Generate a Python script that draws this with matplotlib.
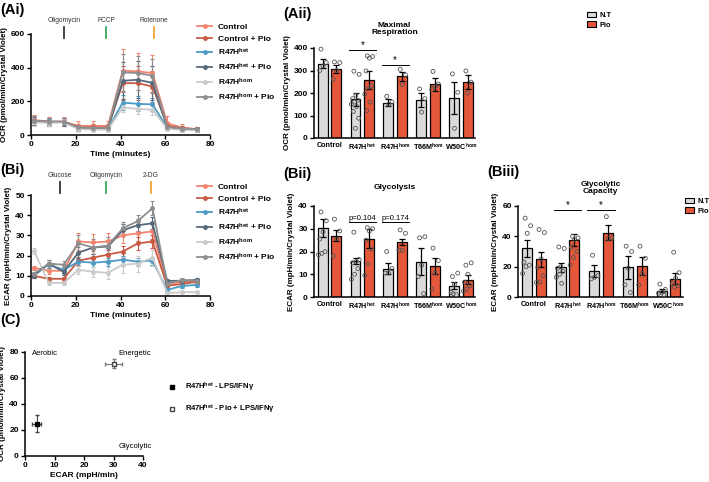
import numpy as np
import matplotlib
matplotlib.use("Agg")
import matplotlib.pyplot as plt
from matplotlib.lines import Line2D
from matplotlib.patches import Patch
import matplotlib.transforms as mtransforms


plt.rcParams['font.family'] = ['Liberation Sans', 'DejaVu Sans']
plt.rcParams['mathtext.fontset'] = 'custom'
plt.rcParams['mathtext.rm'] = 'Liberation Sans'
plt.rcParams['mathtext.bf'] = 'Liberation Sans:bold'
plt.rcParams['mathtext.it'] = 'Liberation Sans:italic'
plt.rcParams['mathtext.default'] = 'bf'

W, H = 709, 482

# ---- seahorse time courses ----
time_min = [1.3, 7.9, 14.6, 21.2, 27.8, 34.4, 41.0, 47.6, 54.3, 60.9, 67.5, 74.1]
series_names = ["Control", "Control + Pio", "R47H$^{het}$", "R47H$^{het}$ + Pio",
                "R47H$^{hom}$", "R47H$^{hom}$ + Pio"]
series_colors = ["#F28470", "#C85A44", "#4C9BC6", "#56687A", "#CBCBCB", "#8E8E8E"]

ocr_control = [89, 80, 80, 54, 54, 54, 383, 378, 368, 70, 44, 34]
ocr_control_pio = [85, 78, 78, 45, 45, 45, 308, 308, 288, 55, 40, 35]
ocr_het = [80, 75, 78, 38, 35, 35, 193, 185, 182, 42, 32, 30]
ocr_het_pio = [82, 78, 78, 40, 38, 38, 322, 328, 310, 45, 35, 32]
ocr_hom = [75, 72, 75, 35, 32, 32, 165, 155, 150, 38, 30, 28]
ocr_hom_pio = [85, 80, 80, 45, 42, 42, 372, 368, 352, 48, 38, 35]

ocr_control_sem = [30, 25, 25, 30, 30, 30, 130, 110, 110, 40, 20, 15]
ocr_control_pio_sem = [25, 20, 20, 20, 20, 20, 100, 100, 90, 25, 15, 12]
ocr_het_sem = [20, 18, 18, 12, 12, 12, 45, 45, 40, 12, 10, 8]
ocr_het_pio_sem = [25, 22, 22, 15, 15, 15, 110, 110, 100, 15, 12, 10]
ocr_hom_sem = [20, 18, 18, 10, 10, 10, 30, 30, 30, 10, 8, 8]
ocr_hom_pio_sem = [25, 22, 22, 15, 15, 15, 110, 100, 100, 15, 12, 10]

ecar_control = [14, 12.5, 12.5, 27, 26.5, 27, 30, 31, 32, 6, 7, 7]
ecar_control_pio = [10, 8.5, 8.5, 17.5, 19, 20.5, 22, 26, 27, 5, 6, 7]
ecar_het = [11, 15.5, 13, 17, 16.5, 17, 18, 17, 17.5, 3, 5, 5.5]
ecar_het_pio = [10, 16, 12, 21.5, 24, 24.5, 32.5, 35, 36, 7.5, 7.5, 8]
ecar_hom = [22.5, 6.5, 6.5, 13, 12, 11.5, 15.5, 16, 19, 1.5, 1.8, 2]
ecar_hom_pio = [11, 16, 15.5, 26, 24, 25, 33.5, 37, 43.5, 6, 8, 7.5]

ecar_control_sem = [1, 1.5, 1.5, 4, 4, 4, 4, 4, 4, 1, 1, 1]
ecar_control_pio_sem = [1, 1, 1, 2, 2, 2.5, 3, 3, 3, 1, 1, 1]
ecar_het_sem = [1, 1.5, 1.5, 2, 2, 2, 2, 2, 2, 1, 1, 1]
ecar_het_pio_sem = [1, 2, 1.5, 3, 3, 3, 3, 3, 3, 1, 1, 1]
ecar_hom_sem = [1.5, 1, 1, 2, 2.5, 3, 4, 4, 4, 0.5, 0.5, 0.5]
ecar_hom_pio_sem = [1, 2, 2, 4, 4, 4, 3, 3, 3.5, 1, 1, 1]

ocr_injections = ["Oligomycin", "FCCP", "Rotenone"]
ocr_inject_times = [14.9, 33.5, 55.0]
ecar_injections = ["Glucose", "Oligomycin", "2-DG"]
ecar_inject_times = [13.0, 33.5, 53.6]
inject_colors = ["#333333", "#3DAA5E", "#F0A634"]

# ---- bar charts ----
genotypes = ["Control", "R47H$^{het}$", "R47H$^{hom}$", "T66M$^{hom}$", "W50C$^{hom}$"]

maxresp_nt = [330, 172, 157, 170, 177]
maxresp_nt_sem = [20, 30, 15, 30, 70]
maxresp_pio = [308, 260, 275, 238, 250]
maxresp_pio_sem = [18, 40, 20, 30, 30]
maxresp_nt_pts = [[395, 335, 320, 300], [297, 283, 190, 175, 168, 160, 150, 140, 118, 88, 43],
                  [185, 160, 150], [218, 175, 115], [285, 203, 43]]
maxresp_pio_pts = [[338, 335, 300, 262], [365, 362, 355, 298, 232, 220, 195, 160, 122],
                   [305, 280, 238], [296, 240, 228, 215], [298, 248, 200]]

glyco_nt = [30.5, 15.8, 12.5, 15.5, 5.0]
glyco_nt_sem = [4, 1.5, 2.5, 6, 1.5]
glyco_pio = [27, 25.7, 24.2, 13.5, 7.6]
glyco_pio_sem = [2.5, 4, 1.5, 3.5, 2]
glyco_nt_pts = [[37.4, 33.5, 28.6, 25.5, 19.9, 19.2, 18.6], [28.5, 16.5, 15.5, 15, 12.5, 10, 7.8],
                [20, 12.5, 10.5, 10.5], [26, 26.5, 14, 9, 1.5], [9, 10.5, 5.5, 2, 1, 1.5]]
glyco_pio_pts = [[34.2, 29.0, 25.5, 18.0], [30.5, 30, 29, 25, 21, 14.5, 9.5],
                 [29.5, 28, 20.5, 20.5], [21.5, 16, 10.5, 3.5], [14, 15, 10, 6.5, 5, 3.5, 2.5]]

glycap_nt = [32, 19.5, 17, 19.5, 4.2]
glycap_nt_sem = [5.5, 3, 4, 7.5, 1.2]
glycap_pio = [25, 37.5, 42.5, 20.5, 12]
glycap_pio_sem = [5, 4, 5, 6, 3.5]
glycap_nt_pts = [[52, 47, 42, 23, 21, 20, 15.5], [33, 32, 20, 19, 17, 15, 13, 9],
                 [27.5, 14, 13, 12], [33.5, 30, 19, 8, 3], [8.5, 5, 3, 2.5, 1.5]]
glycap_pio_pts = [[44.5, 42.5, 25, 19.5, 14, 10, 9.5], [40, 39, 38, 33, 30, 26, 21],
                  [53, 39, 38.5], [33.5, 25.5, 15.5, 8], [29.5, 16, 12.5, 9, 7.5, 6.5]]

NT_COLOR = "#DADADA"
PIO_COLOR = "#E5573A"

# ---- energy map ----
energy_labels = ["R47H$^{het}$ - LPS/IFNγ", "R47H$^{het}$ - Pio + LPS/IFNγ"]
energy_ecar = [4.0, 30.0]
energy_ecar_err = [1.5, 3.0]
energy_ocr = [25.0, 71.0]
energy_ocr_err = [6.5, 3.5]


def px_axes(fig, left, top, right, bottom):
    return fig.add_axes([left / W, 1 - bottom / H, (right - left) / W, (bottom - top) / H])


def style_axes(ax, xsize=6):
    for s in ["top", "right"]:
        ax.spines[s].set_visible(False)
    for s in ["left", "bottom"]:
        ax.spines[s].set_linewidth(1.1)
    ax.tick_params(labelsize=6, width=1.0, length=3, pad=1.5)
    ax.tick_params(axis="x", labelsize=xsize)
    for lab in ax.get_xticklabels() + ax.get_yticklabels():
        lab.set_fontweight("bold")


def time_course(ax, means, sems, names, inj_names, inj_times, ylim, yticks, ylabel, mark_y, text_y):
    for m, e, c in zip(means, sems, series_colors):
        ax.errorbar(time_min, m, yerr=e, color=c, lw=1.3, marker="o", ms=2.5, mfc=c,
                    mec=c, elinewidth=0.8, capsize=1.5, capthick=0.8, clip_on=False)
    ax.set_xlim(0, 80)
    ax.set_ylim(*ylim)
    ax.set_xticks([0, 20, 40, 60, 80])
    ax.set_yticks(yticks)
    ax.set_xlabel("Time (minutes)", fontsize=6, fontweight="bold", labelpad=2)
    ax.set_ylabel(ylabel, fontsize=5.8, fontweight="bold", labelpad=2)
    style_axes(ax)
    trans = mtransforms.blended_transform_factory(ax.transData, ax.transAxes)
    for n, t, c in zip(inj_names, inj_times, inject_colors):
        ax.plot([t, t], mark_y, color=c, lw=1.3, transform=trans, clip_on=False)
        ax.text(t, text_y, n, transform=trans, fontsize=4.8, ha="center", va="center", color="#333333")


def spread(n, width):
    # fixed horizontal spread of the dots inside a bar
    k = np.arange(n)
    return ((k * 0.618 + 0.3) % 1 - 0.5) * width


def bar_panel(ax, nt, nt_sem, pio, pio_sem, nt_pts, pio_pts, ylim, yticks, ylabel):
    x = np.arange(len(genotypes))
    off, bw = 0.205, 0.30
    ax.bar(x - off, nt, bw, color=NT_COLOR, edgecolor="black", lw=0.9, zorder=2)
    ax.bar(x + off, pio, bw, color=PIO_COLOR, edgecolor="black", lw=0.9, zorder=2)
    ax.errorbar(x - off, nt, yerr=nt_sem, fmt="none", ecolor="black", elinewidth=0.9,
                capsize=2, capthick=0.9, zorder=4)
    ax.errorbar(x + off, pio, yerr=pio_sem, fmt="none", ecolor="black", elinewidth=0.9,
                capsize=2, capthick=0.9, zorder=4)
    for i in range(len(genotypes)):
        for pts, cx in [(nt_pts[i], x[i] - off), (pio_pts[i], x[i] + off)]:
            ax.scatter(cx + spread(len(pts), 0.26), pts, s=8, facecolors="none",
                       edgecolors="#555555", linewidths=0.6, zorder=5, clip_on=False)
    ax.set_xlim(-0.47, 4.43)
    ax.set_ylim(*ylim)
    ax.set_yticks(yticks)
    ax.set_xticks(x)
    ax.set_xticklabels(genotypes)
    ax.set_ylabel(ylabel, fontsize=5.8, fontweight="bold", labelpad=2)
    style_axes(ax, xsize=5.2)
    ax.tick_params(axis="x", length=0, pad=3)


def bracket(ax, i, y, label, fs=7):
    ax.plot([i - 0.41, i + 0.41], [y, y], color="black", lw=0.7)
    ax.text(i, y, label, ha="center", va="bottom", fontsize=fs)


def bar_legend(fig, x, y):
    handles = [Patch(facecolor=NT_COLOR, edgecolor="black", lw=0.8),
               Patch(facecolor=PIO_COLOR, edgecolor="black", lw=0.8)]
    leg = fig.legend(handles, ["N.T", "Pio"], loc="upper left", bbox_to_anchor=(x / W, 1 - y / H),
                     frameon=False, fontsize=5.3, handlelength=1.3, handleheight=0.8,
                     handletextpad=0.4, labelspacing=0.3, borderpad=0)
    for t in leg.get_texts():
        t.set_fontweight("bold")


def line_legend(fig, x, y):
    handles = [Line2D([], [], color=c, lw=1.3, marker="o", ms=2.5) for c in series_colors]
    leg = fig.legend(handles, series_names, loc="upper left", bbox_to_anchor=(x / W, 1 - y / H),
                     frameon=False, fontsize=6, handlelength=1.8, handletextpad=0.7,
                     labelspacing=0.45, borderpad=0)
    for t in leg.get_texts():
        t.set_fontweight("bold")


def main():
    fig = plt.figure(figsize=(W / 100, H / 100), dpi=100)

    # (Ai) OCR time course
    ax = px_axes(fig, 31, 34, 210, 135)
    time_course(ax,
                [ocr_control, ocr_control_pio, ocr_het, ocr_het_pio, ocr_hom, ocr_hom_pio],
                [ocr_control_sem, ocr_control_pio_sem, ocr_het_sem, ocr_het_pio_sem, ocr_hom_sem, ocr_hom_pio_sem],
                series_names, ocr_injections, ocr_inject_times, (0, 600), [0, 200, 400, 600],
                "OCR (pmol/min/Crystal Violet)", [1.07, 0.96], 1.13)
    line_legend(fig, 193, 19)

    # (Aii) maximal respiration
    ax = px_axes(fig, 314, 48, 475, 138)
    bar_panel(ax, maxresp_nt, maxresp_nt_sem, maxresp_pio, maxresp_pio_sem, maxresp_nt_pts,
              maxresp_pio_pts, (0, 400), [0, 100, 200, 300, 400], "OCR (pmol/min/Crystal Violet)")
    ax.text(0.5, 1.13, "Maximal\nRespiration", transform=ax.transAxes, ha="center", va="bottom",
            fontsize=6, fontweight="bold", linespacing=1.1)
    bracket(ax, 1, 390, "*")
    bracket(ax, 2, 326, "*")
    bar_legend(fig, 583, 8)

    # (Bi) ECAR time course
    ax = px_axes(fig, 31, 195, 210, 296)
    time_course(ax,
                [ecar_control, ecar_control_pio, ecar_het, ecar_het_pio, ecar_hom, ecar_hom_pio],
                [ecar_control_sem, ecar_control_pio_sem, ecar_het_sem, ecar_het_pio_sem, ecar_hom_sem, ecar_hom_pio_sem],
                series_names, ecar_injections, ecar_inject_times, (0, 50), [0, 10, 20, 30, 40, 50],
                "ECAR (mpH/min/Crystal Violet)", [1.13, 1.02], 1.19)
    line_legend(fig, 193, 179)

    # (Bii) glycolysis
    ax = px_axes(fig, 314, 206, 475, 297)
    bar_panel(ax, glyco_nt, glyco_nt_sem, glyco_pio, glyco_pio_sem, glyco_nt_pts, glyco_pio_pts,
              (0, 40), [0, 10, 20, 30, 40], "ECAR (mpH/min/Crystal Violet)")
    ax.text(0.5, 1.17, "Glycolysis", transform=ax.transAxes, ha="center", va="bottom",
            fontsize=6, fontweight="bold")
    bracket(ax, 1, 33, "p=0.104", fs=5.5)
    bracket(ax, 2, 33, "p=0.174", fs=5.5)

    # (Biii) glycolytic capacity
    ax = px_axes(fig, 518, 206, 683, 297)
    bar_panel(ax, glycap_nt, glycap_nt_sem, glycap_pio, glycap_pio_sem, glycap_nt_pts, glycap_pio_pts,
              (0, 60), [0, 20, 40, 60], "ECAR (mpH/min/Crystal Violet)")
    ax.text(0.5, 1.12, "Glycolytic\nCapacity", transform=ax.transAxes, ha="center", va="bottom",
            fontsize=6, fontweight="bold", linespacing=1.1)
    bracket(ax, 1, 57.5, "*")
    bracket(ax, 2, 57.5, "*")
    bar_legend(fig, 681, 194)

    # (C) energy map
    ax = px_axes(fig, 25, 352, 143, 456)
    ax.errorbar(energy_ecar[0], energy_ocr[0], xerr=energy_ecar_err[0], yerr=energy_ocr_err[0],
                fmt="s", color="black", ms=3, ecolor="#444444", elinewidth=0.8, capsize=1.5)
    ax.errorbar(energy_ecar[1], energy_ocr[1], xerr=energy_ecar_err[1], yerr=energy_ocr_err[1],
                fmt="s", color="#444444", mfc="white", ms=3, ecolor="#777777", elinewidth=0.8, capsize=1.5)
    ax.set_xlim(0, 40)
    ax.set_ylim(0, 80)
    ax.set_xticks([0, 10, 20, 30, 40])
    ax.set_yticks([0, 20, 40, 60, 80])
    ax.set_xlabel("ECAR (mpH/min)", fontsize=6, fontweight="bold", labelpad=2)
    ax.set_ylabel("OCR (pmol/min/Crystal Violet)", fontsize=5.8, fontweight="bold", labelpad=2)
    style_axes(ax)
    ax.text(2.5, 78.5, "Aerobic", fontsize=5.5, va="center")
    ax.text(31.8, 78.5, "Energetic", fontsize=5.5, va="center")
    ax.text(31.8, 7.5, "Glycolytic", fontsize=5.5, va="center")
    handles = [Line2D([], [], ls="none", marker="s", ms=3, color="black"),
               Line2D([], [], ls="none", marker="s", ms=3, color="#444444", mfc="white")]
    leg = fig.legend(handles, energy_labels, loc="upper left", bbox_to_anchor=(164 / W, 1 - 377 / H),
                     frameon=False, fontsize=5.5, handlelength=1.0, handletextpad=1.2,
                     labelspacing=1.1, borderpad=0)
    for t in leg.get_texts():
        t.set_fontweight("bold")

    # panel letters
    for lab, x, y in [("(Ai)", 0, 10), ("(Aii)", 283, 14), ("(Bi)", 0, 170), ("(Bii)", 283, 174),
                      ("(Biii)", 487, 172), ("(C)", 0, 320)]:
        fig.text(x / W, 1 - y / H, lab, fontsize=10.5, fontweight="bold", va="center", ha="left")

    fig.savefig("out.png", dpi=100)


if __name__ == "__main__":
    main()
